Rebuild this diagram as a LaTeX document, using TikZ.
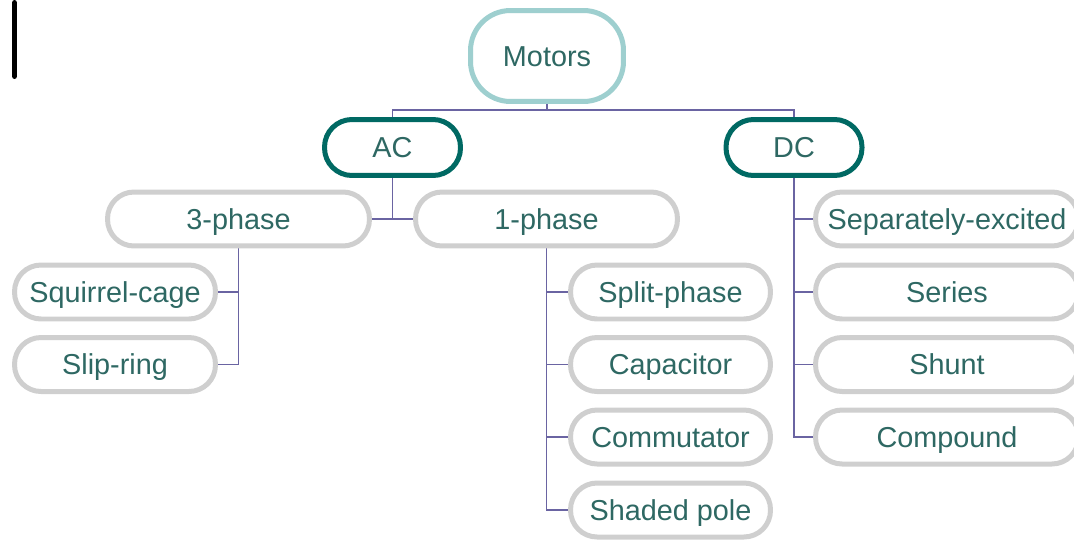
\documentclass[tikz,border=0pt]{standalone}
\usepackage{fontspec}
\setmainfont{Liberation Sans}
\usetikzlibrary{backgrounds}

\definecolor{rootline}{RGB}{158,207,207}
\definecolor{kindline}{RGB}{0,105,99}
\definecolor{subline}{RGB}{207,207,207}
\definecolor{linkcol}{RGB}{106,100,162}
\definecolor{motortext}{RGB}{46,104,99}

\tikzset{
	box/.style={draw, fill=white, line width=0.1cm, inner sep=0pt, text=motortext,
		font=\fontsize{16.4}{19}\selectfont, text height=11.74pt, text depth=0pt,
		minimum height=1.08cm, rounded corners=0.53cm},
	root/.style={box, draw=rootline, minimum width=3.06cm, minimum height=1.82cm, rounded corners=0.8cm},
	kind/.style={box, draw=kindline, minimum width=2.72cm, minimum height=1.12cm, rounded corners=0.55cm},
	sub/.style={box, draw=subline},
	link/.style={draw=linkcol, line width=0.03cm},
}

\begin{document}
\begin{tikzpicture}[x=0.02cm, y=-0.02cm]
		%%%%% START %%%%%
		\useasboundingbox (0, 0) rectangle (1074, 541);
		
		\draw[line width=0.12cm, line cap=round] (14.5, 3) -- (14.5, 76);
		
		\node[root] (motors) at (547, 56) {Motors};
		\node[kind] (ac) at (392.5, 147.5) {AC};
		\node[kind] (dc) at (794, 147.5) {DC};
		
		\node[sub, minimum width=5.24cm] (threephase) at (238.5, 219) {3-phase};
		\node[sub, minimum width=5.24cm] (onephase) at (546.5, 219) {1-phase};
		
		\node[sub, minimum width=4.02cm] (squirrel) at (115, 292) {Squirrel-cage};
		\node[sub, minimum width=4.02cm] (slipring) at (115, 364.5) {Slip-ring};
		
		\node[sub, minimum width=4.0cm] (split) at (670.5, 292) {Split-phase};
		\node[sub, minimum width=4.0cm] (capacitor) at (670.5, 364.5) {Capacitor};
		\node[sub, minimum width=4.0cm] (commutator) at (670.5, 437) {Commutator};
		\node[sub, minimum width=4.0cm] (shaded) at (670.5, 510) {Shaded pole};
		
		\node[sub, minimum width=5.26cm] (separately) at (947, 219) {Separately-excited};
		\node[sub, minimum width=5.26cm] (series) at (947, 292) {Series};
		\node[sub, minimum width=5.26cm] (shunt) at (947, 364.5) {Shunt};
		\node[sub, minimum width=5.26cm] (compound) at (947, 437) {Compound};
		
		\begin{scope}[on background layer]
		\draw[link] (motors.south) -- ++(0, 6) -| (ac.north);
		\draw[link] (motors.south) -- ++(0, 6) -| (dc.north);
		
		\draw[link] (ac.south) -- (ac.south |- threephase.east);
		\draw[link] (threephase.east) -- (onephase.west);
		
		\draw[link] (threephase.south) |- (slipring.east);
		\draw[link] (squirrel.east) -- (squirrel.east -| threephase.south);
		
		\draw[link] (onephase.south) |- (shaded.west);
		\foreach \n in {split, capacitor, commutator}
			\draw[link] (\n.west) -- (\n.west -| onephase.south);
		
		\draw[link] (dc.south) |- (compound.west);
		\foreach \n in {separately, series, shunt}
			\draw[link] (\n.west) -- (\n.west -| dc.south);
		\end{scope}
		
		%%%%% END %%%%%
\end{tikzpicture}
\end{document}
